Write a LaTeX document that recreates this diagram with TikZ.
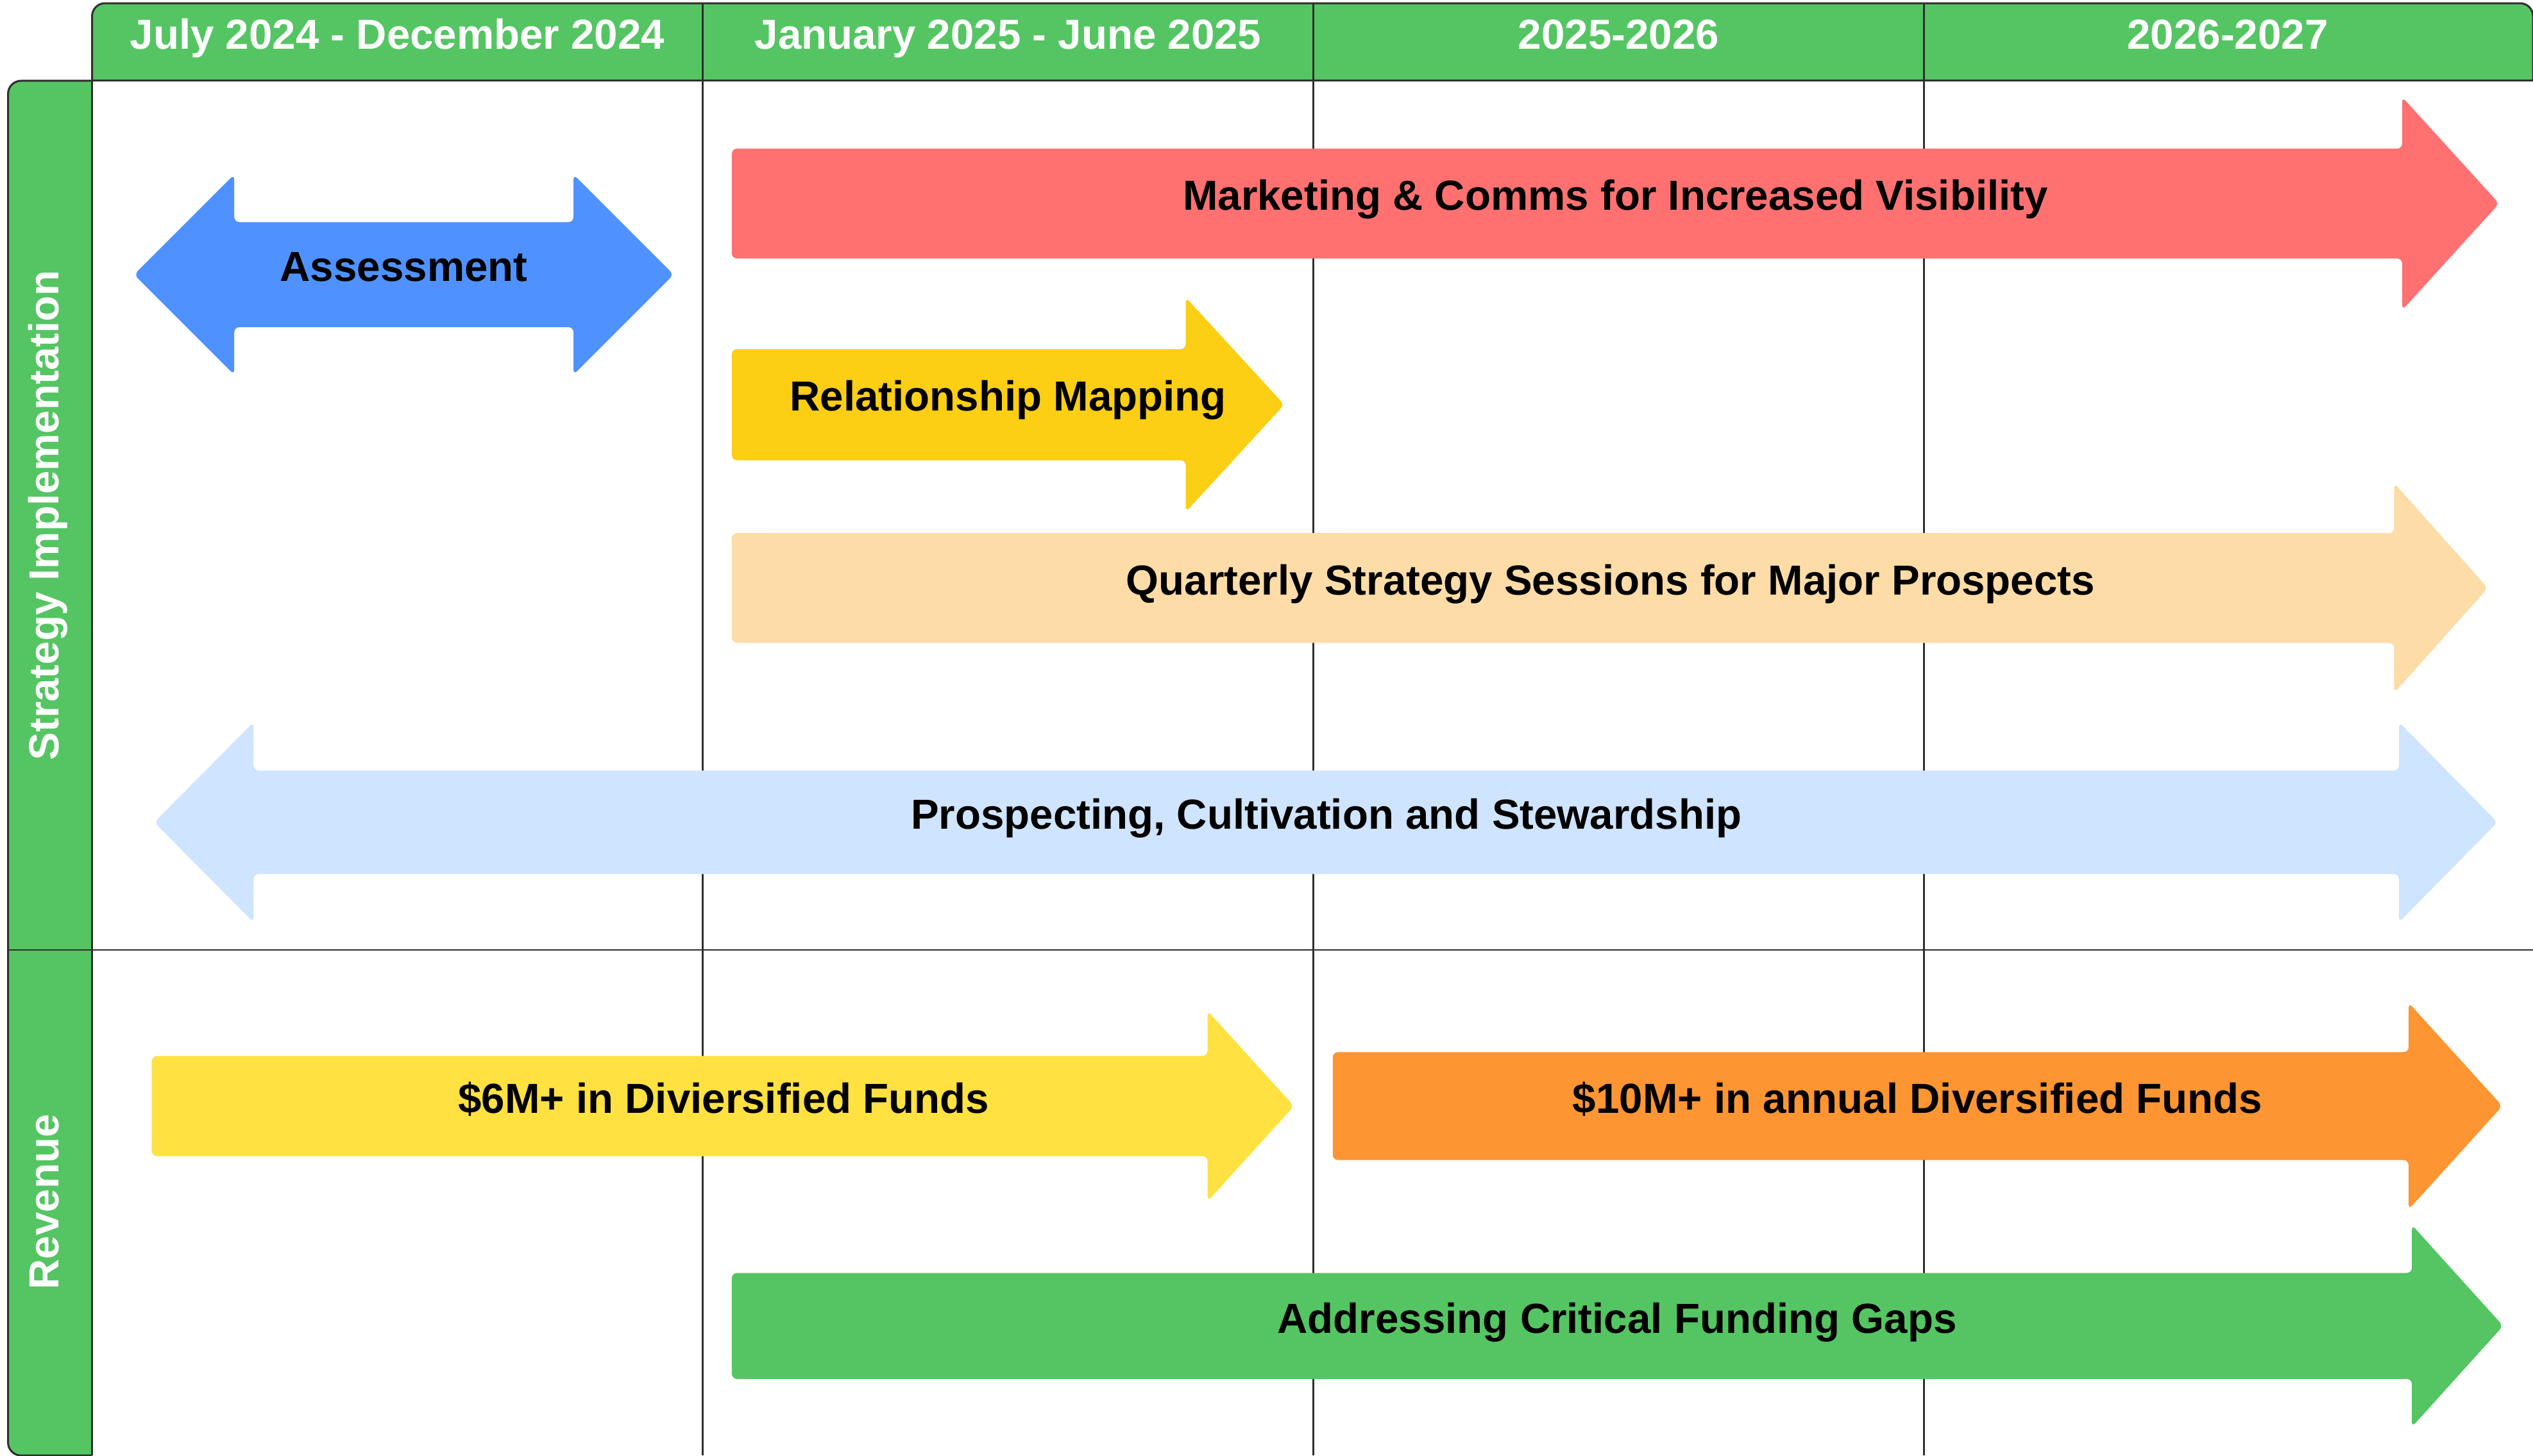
\documentclass[tikz,border=0pt]{standalone}
\usepackage{fontspec}
\setmainfont{Liberation Sans}
\definecolor{hdrgreen}{HTML}{54C562}
\definecolor{linec}{HTML}{2E2E2E}
\definecolor{abluec}{HTML}{4F92FF}
\definecolor{aredc}{HTML}{FF7171}
\definecolor{agoldc}{HTML}{FCCE14}
\definecolor{apeachc}{HTML}{FDDCA7}
\definecolor{alightc}{HTML}{CFE4FF}
\definecolor{ayellowc}{HTML}{FFE142}
\definecolor{aorangec}{HTML}{FC9532}
\definecolor{agreenc}{HTML}{54C562}
% #1 colour, #2 left x, #3 shoulder x, #4 tip x, #5 centre y, #6 body half, #7 head half
\newcommand{\tlRarrow}[7]{%
  \fill[#1, rounded corners=1.6pt] (#2,#5-#6) -- (#3,#5-#6) -- (#3,#5-#7) -- (#4,#5)
    -- (#3,#5+#7) -- (#3,#5+#6) -- (#2,#5+#6) -- cycle;}
% #1 colour, #2 left tip, #3 left shoulder, #4 right shoulder, #5 right tip, #6 centre y, #7 body half, #8 head half
\newcommand{\tlDarrow}[8]{%
  \fill[#1, rounded corners=1.6pt] (#2,#6) -- (#3,#6-#8) -- (#3,#6-#7) -- (#4,#6-#7) -- (#4,#6-#8)
    -- (#5,#6) -- (#4,#6+#8) -- (#4,#6+#7) -- (#3,#6+#7) -- (#3,#6+#8) -- cycle;}
\begin{document}
\begin{tikzpicture}[x=0.5pt, y=-0.5pt,
  gridline/.style={draw=linec, line width=0.45pt},
  frameline/.style={draw=linec, line width=0.6pt},
  hdrtext/.style={text=white, font=\fontsize{13pt}{15pt}\selectfont\bfseries, inner sep=0pt,
                  text height=0.73em, text depth=0.21em},
  lbltext/.style={text=black, font=\fontsize{13pt}{15pt}\selectfont\bfseries, inner sep=0pt,
                  text height=0.73em, text depth=0.21em}]
\useasboundingbox (0,0) rectangle (1568,901);
% header band
\fill[hdrgreen, rounded corners=4pt] (57,2) rectangle (1568,50);
\fill[hdrgreen] (57,30) rectangle (1568,50);
% row label column
\fill[hdrgreen, rounded corners=4pt] (5,50) rectangle (57,901);
\fill[hdrgreen] (30,50) rectangle (57,901);
% grid lines
\draw[gridline] (435,2) -- (435,901);
\draw[gridline] (813,2) -- (813,901);
\draw[gridline] (1191,2) -- (1191,901);
\draw[gridline] (5,588) -- (1568,588);
\draw[gridline] (57,50) -- (57,901);
\draw[frameline] (57,50) -- (1568,50);
\draw[frameline, rounded corners=4pt] (57,50) -- (57,2) -- (1568,2) -- (1568,50);
\draw[frameline, rounded corners=4pt] (57,50) -- (5,50) -- (5,901) -- (57,901);
% header texts
\node[hdrtext] (h1) at (246,25) {July 2024 - December 2024};
\node[hdrtext] (h2) at (624,25) {January 2025 - June 2025};
\node[hdrtext] (h3) at (1002,25) {2025-2026};
\node[hdrtext] (h4) at (1379,25) {2026-2027};
% row labels
\node[hdrtext, rotate=90] (r1) at (31,319) {Strategy Implementation};
\node[hdrtext, rotate=90] (r2) at (31,744) {Revenue};
% arrows
\tlDarrow{abluec}{83}{145}{355}{417}{170}{32.5}{62}
\tlRarrow{aredc}{453}{1487}{1547}{126}{34}{66}
\tlRarrow{agoldc}{453}{734}{795}{250.5}{34.4}{66.4}
\tlRarrow{apeachc}{453}{1482}{1540}{364}{34}{65}
\tlDarrow{alightc}{95.5}{157}{1485}{1546}{509}{32}{62}
\tlRarrow{ayellowc}{94}{747.5}{801}{684.7}{31}{59}
\tlRarrow{aorangec}{825}{1491}{1549}{684.7}{33.4}{64}
\tlRarrow{agreenc}{453}{1493}{1549.5}{820.8}{32.8}{62.6}
% arrow labels
\node[lbltext] (assess) at (250,169) {Assessment};
\node[lbltext] (mkt) at (1000,125) {Marketing \& Comms for Increased Visibility};
\node[lbltext] (relmap) at (624,249) {Relationship Mapping};
\node[lbltext] (qss) at (997,363) {Quarterly Strategy Sessions for Major Prospects};
\node[lbltext] (pcs) at (821,508) {Prospecting, Cultivation and Stewardship};
\node[lbltext] (six) at (448,684) {\$6M+ in Diviersified Funds};
\node[lbltext] (ten) at (1187,684) {\$10M+ in annual Diversified Funds};
\node[lbltext] (gaps) at (1001,820) {Addressing Critical Funding Gaps};
\end{tikzpicture}
\end{document}
